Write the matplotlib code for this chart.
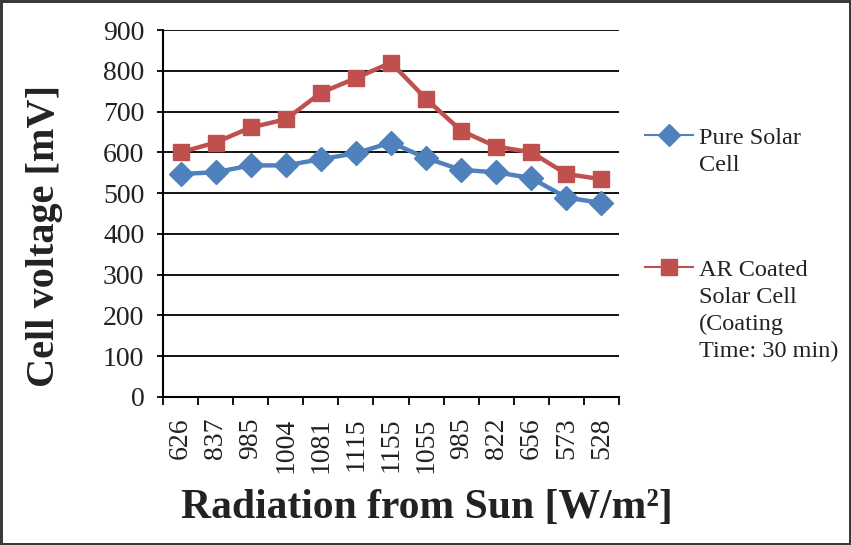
import numpy as np
import matplotlib
matplotlib.use("Agg")
import matplotlib.pyplot as plt
from matplotlib.lines import Line2D

plt.rcParams["font.family"] = ["Liberation Serif", "DejaVu Serif"]

radiation = ["626", "837", "985", "1004", "1081", "1115", "1155",
             "1055", "985", "822", "656", "573", "528"]
pure_cell = [547, 551, 568, 568, 583, 598, 624, 586, 557, 551, 537, 489, 476]
ar_coated = [600, 624, 661, 681, 746, 782, 820, 731, 653, 614, 600, 547, 534]
series_names = [["Pure Solar", "Cell"],
                ["AR Coated", "Solar Cell", "(Coating", "Time: 30 min)"]]

BLUE = "#4F81BD"
RED = "#C0504D"

fig = plt.figure(figsize=(8.51, 5.45), dpi=100)
fig.patch.set_edgecolor("#3a3a3a")
fig.patch.set_linewidth(2.5)
ax = fig.add_axes([163 / 851, 1 - 397 / 545, (619 - 163) / 851, (397 - 30) / 545])

x = np.arange(len(radiation))
ax.plot(x, pure_cell, color=BLUE, lw=3.2, marker="D", ms=12, zorder=3)
ax.plot(x, ar_coated, color=RED, lw=3.2, marker="s", ms=12, zorder=4)

ax.set_ylim(0, 900)
ax.set_xlim(-0.5, len(radiation) - 0.5)
ax.set_yticks(np.arange(0, 901, 100))
ax.yaxis.grid(True, color="black", lw=1.3)
ax.set_axisbelow(True)

ax.set_xticks(x)
ax.set_xticklabels(radiation, rotation=90)
ax.set_xticks(np.arange(-0.5, len(radiation)), minor=True)
ax.tick_params(axis="x", which="major", length=0, pad=15, labelsize=20)
ax.tick_params(axis="x", which="minor", length=6, width=1.3, direction="out")
ax.tick_params(axis="y", length=4.5, width=1.3, pad=9, labelsize=20)
for lab in ax.get_xticklabels() + ax.get_yticklabels():
    lab.set_color("#222222")

for side in ["top", "right"]:
    ax.spines[side].set_visible(False)
for side in ["left", "bottom"]:
    ax.spines[side].set_linewidth(1.5)

fig.text(45 / 851, 1 - 236 / 545, "Cell voltage [mV]", rotation=90,
         ha="center", va="center", fontsize=29, fontweight="bold", color="#222222")
fig.text(427 / 851, 1 - 518 / 545, "Radiation from Sun [W/m²]",
         ha="center", va="baseline", fontsize=30, fontweight="bold", color="#222222")

# legend drawn by hand so the marker sits on the first text line
legend_rows = [(135, 144), (267, 276)]
styles = [(BLUE, "D", 11.5), (RED, "s", 12)]
for (ly, by), (c, m, s), lines in zip(legend_rows, styles, series_names):
    yy = 1 - ly / 545
    fig.add_artist(Line2D([645 / 851, 669 / 851, 693 / 851], [yy, yy, yy],
                          color=c, lw=1.5, marker=m, ms=s, markevery=[1],
                          transform=fig.transFigure))
    for i, line in enumerate(lines):
        fig.text(699 / 851, 1 - (by + 27 * i) / 545, line, ha="left",
                 va="baseline", fontsize=17.5, color="#222222")

fig.savefig("out.png", dpi=100)
